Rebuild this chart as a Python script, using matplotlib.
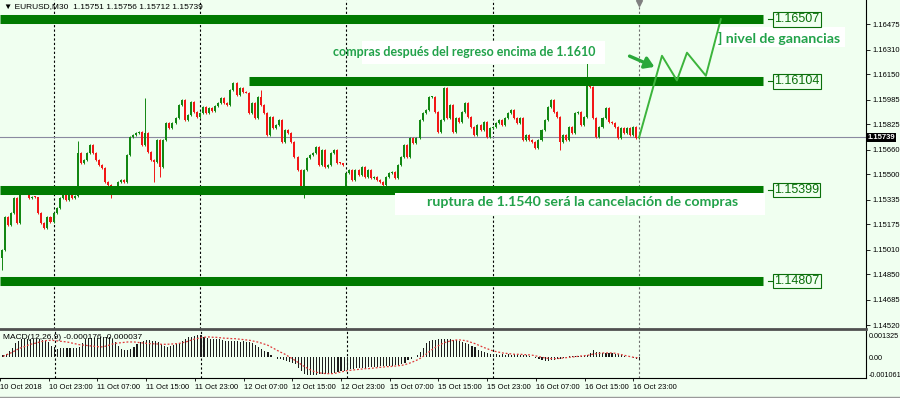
import numpy as np
import pandas as pd
import matplotlib
matplotlib.use('Agg')
import matplotlib.pyplot as plt
from matplotlib.patches import Rectangle

plt.rcParams['font.family'] = ['Liberation Sans', 'DejaVu Sans']

symbol = 'EURUSD,M30'
header_ohlc = '1.15751 1.15756 1.15712 1.15739'
last_price = 1.15739

# M30 closes, 10 Oct 15:30 .. 17 Oct 00:00 (weekend skipped)
closes = [
    1.15008, 1.15222, 1.15170, 1.15248, 1.15346, 1.15183, 1.15378, 1.15398, 1.15392, 1.15346,
    1.15352, 1.15350, 1.15248, 1.15183, 1.15150, 1.15222, 1.15190, 1.15248, 1.15281, 1.15346,
    1.15365, 1.15333, 1.15365, 1.15346, 1.15359, 1.15638, 1.15573, 1.15593, 1.15638, 1.15690,
    1.15638, 1.15593, 1.15560, 1.15541, 1.15450, 1.15430, 1.15411, 1.15405, 1.15450, 1.15463,
    1.15450, 1.15625, 1.15742, 1.15755, 1.15768, 1.15775, 1.15690, 1.15768, 1.15645, 1.15593,
    1.15580, 1.15723, 1.15547, 1.15723, 1.15833, 1.15801, 1.15833, 1.15866, 1.15950, 1.15983,
    1.15853, 1.15885, 1.15970, 1.15905, 1.15872, 1.15898, 1.15937, 1.15898, 1.15931, 1.15912,
    1.15945, 1.15963,
    1.15995, 1.15963, 1.15950, 1.16048, 1.16093, 1.16015, 1.16061, 1.16035, 1.16030, 1.15898,
    1.15963, 1.15866, 1.16002, 1.15950, 1.15898, 1.15755, 1.15872, 1.15801, 1.15820, 1.15853,
    1.15710, 1.15788, 1.15768, 1.15710, 1.15612, 1.15528, 1.15411, 1.15528, 1.15606, 1.15625,
    1.15638, 1.15677, 1.15560, 1.15658, 1.15547, 1.15560, 1.15638, 1.15658, 1.15573, 1.15570,
    1.15560,
    1.15508, 1.15528, 1.15463, 1.15528, 1.15495, 1.15547, 1.15482, 1.15528, 1.15476, 1.15482,
    1.15463, 1.15450, 1.15430, 1.15482, 1.15508, 1.15515, 1.15476, 1.15560, 1.15612, 1.15690,
    1.15612, 1.15736, 1.15703, 1.15736, 1.15853, 1.15898, 1.15918, 1.16002,
    1.16002, 1.15905, 1.15775, 1.15853, 1.16061, 1.15866, 1.15950, 1.15775, 1.15866, 1.15840,
    1.15905, 1.15963, 1.15872, 1.15807, 1.15755, 1.15820, 1.15788, 1.15840, 1.15742, 1.15801,
    1.15807, 1.15833, 1.15853, 1.15820, 1.15866, 1.15898, 1.15918, 1.15866, 1.15833, 1.15866,
    1.15723, 1.15755, 1.15723, 1.15710, 1.15671, 1.15723, 1.15788, 1.15853, 1.15937, 1.15983,
    1.15905, 1.15872, 1.15710, 1.15755, 1.15723, 1.15807, 1.15768, 1.15898, 1.15905, 1.15820,
    1.15872, 1.16080, 1.16067, 1.15866, 1.15742, 1.15807, 1.15866, 1.15931, 1.15840, 1.15833,
    1.15807, 1.15736, 1.15801, 1.15768, 1.15801, 1.15755, 1.15807, 1.15736, 1.15739,
]
first_open = 1.14955
gap_opens = {113: 1.15411}
long_highs = {25: 1.15716, 47: 1.15995, 85: 1.16048, 192: 1.16223}
long_lows = {0: 1.14878, 36: 1.15346, 50: 1.15450, 52: 1.15482, 99: 1.15346, 183: 1.15658}

# MACD(12,26,9), in units of 1e-5
macd_main = [
    12, 20, 38, 58, 84, 98, 108, 112, 112, 112,
    112, 112, 110, 106, 100, 90, 70, 62, 52, 54,
    56, 56, 56, 58, 56, 64, 84, 112, 116, 116,
    116, 116, 120, 122, 122, 122, 112, 92, 66, 52,
    46, 42, 50, 60, 78, 94, 100, 102, 102, 100,
    96, 90, 80, 66, 62, 70, 76, 80, 86, 98,
    110, 120, 122, 128, 132, 132, 122, 114, 112, 112,
    112, 110, 104, 98, 96, 96, 96, 96, 94, 96,
    94, 92, 86, 74, 60, 50, 40, 30, 12, 0,
    -8, -12, -16, -20, -26, -32, -42, -64, -82, -98,
    -106, -106, -106, -104, -102, -102, -100, -100, -98, -92,
    -88, -84, -80, -78, -70, -68, -66, -64, -64, -62,
    -60, -58, -56, -56, -54, -54, -52, -50, -50, -48,
    -48, -42, -34, -18, -8, 2, 12, 30, 56, 88,
    100, 104, 106, 110, 112, 112, 110, 108, 106, 104,
    100, 94, 86, 78, 68, 60, 46, 38, 32, 24,
    22, 20, 18, 16, 18, 16, 18, 16, 18, 14,
    16, 12, 14, 10, 2, -4, -10, -16, -20, -22,
    -18, -14, -10, -8, -6, 2, 6, 8, 10, 8,
    10, 12, 16, 24, 42, 34, 30, 26, 28, 24,
    26, 22, 18, 14, 10, 4, 0, -6, -12, -18,
]
macd_signal = [
    6, 14, 22, 30, 40, 50, 58, 64, 72, 78,
    82, 86, 92, 96, 100, 102, 102, 100, 98, 96,
    94, 92, 88, 84, 80, 76, 74, 72, 70, 68,
    66, 64, 62, 64, 68, 74, 80, 84, 86, 88,
    90, 92, 92, 92, 90, 88, 86, 84, 82, 82,
    80, 80, 78, 78, 78, 80, 80, 82, 84, 88,
    92, 98, 104, 110, 114, 118, 120, 122, 122, 120,
    120, 118, 116, 114, 114, 112, 112, 110, 108, 106,
    104, 102, 98, 94, 90, 84, 78, 72, 62, 52,
    42, 32, 24, 14, 2, -8, -20, -32, -44, -56,
    -66, -76, -84, -90, -94, -96, -98, -98, -98, -96,
    -92, -88, -84, -80, -78, -76, -74, -72, -70, -68,
    -68, -66, -64, -62, -60, -58, -56, -56, -54, -52,
    -50, -48, -44, -38, -32, -24, -16, -6, 6, 20,
    34, 48, 60, 70, 80, 88, 94, 98, 102, 104,
    104, 102, 100, 94, 88, 82, 74, 66, 58, 52,
    44, 38, 34, 30, 26, 24, 22, 20, 18, 18,
    18, 16, 16, 14, 12, 8, 4, 0, -4, -6,
    -8, -8, -8, -6, -4, -2, 0, 2, 4, 6,
    8, 10, 12, 16, 20, 22, 24, 26, 26, 26,
    26, 24, 20, 16, 12, 8, 4, 0, -2, -4,
]
macd_header = 'MACD(12,26,9) -0.000176 -0.000037'

levels = [1.16507, 1.16104, 1.15399, 1.14807]
level_start = [None, 81, None, None]   # None = zone runs from the left edge

# projected path after the last bar
proj_bar = [209, 216.5, 221.4, 224.7, 230.9, 235.8]
proj_price = [1.15739, 1.16270, 1.16110, 1.16290, 1.16140, 1.16508]

price_ticks = [1.16475, 1.16310, 1.16150, 1.15985, 1.15825, 1.15660, 1.15500,
               1.15335, 1.15175, 1.15010, 1.14850, 1.14685, 1.14520]
macd_ticks = [0.001325, 0.0, -0.001061]
macd_tick_labels = ['0.001325', '0.00', '-0.001061']

txt_buy = 'compras después del regreso encima de 1.1610'
txt_target = '] nivel de ganancias'
txt_cancel = 'ruptura de 1.1540 será la cancelación de compras'

bg = '#f0fff0'
bull = '#128712'
bear = '#f21616'
zone = '#007a00'
note_green = '#22a24a'

times = pd.date_range('2018-10-10 15:30', '2018-10-17 00:00', freq='30min')
times = times[times.dayofweek < 5]
n = len(closes)
x = np.arange(n)

opens = [first_open] + closes[:-1]
for k, v in gap_opens.items():
    opens[k] = v
o = np.array(opens)
c = np.array(closes)
hi = np.maximum(o, c) + 0.00005
lo = np.minimum(o, c) - 0.00005
for k, v in long_highs.items():
    hi[k] = v
for k, v in long_lows.items():
    lo[k] = v
cols = np.where(c >= o, bull, bear)
body = c - o
body = np.where(np.abs(body) < 0.00004, 0.00004, body)

fig = plt.figure(figsize=(9, 3.98), dpi=100, facecolor=bg)
ax = fig.add_axes([0, 69 / 398, 866 / 900, 329 / 398], facecolor=bg)
axm = fig.add_axes([0, 20 / 398, 866 / 900, 47 / 398], facecolor=bg)

xl = (-0.557, 283.4)
top = 1.166325
ax.set_xlim(*xl)
ax.set_ylim(top - 329 * 0.000065, top)

def ax_px(px, py):
    # image pixel -> main axes fraction
    return px / 866, 1 - py / 329

# candles
ax.vlines(x, lo, hi, colors=cols, lw=0.7, zorder=2)
ax.bar(x, body, bottom=o, width=0.66, color=cols, linewidth=0, zorder=3)

# day separators
seps = np.where((times.hour == 0) & (times.minute == 0))[0]
for s in seps:
    col = '#707070' if s == n - 1 else 'black'
    ax.axvline(s, color=col, lw=0.8, ls=(0, (2, 2)), zorder=1)
    axm.axvline(s, color=col, lw=0.8, ls=(0, (2, 2)), zorder=1)
ax.plot([n - 1], [top - 0.0002], marker='v', color='#808080', ms=4, zorder=6, clip_on=False)

# current price line
ax.axhline(last_price, color='#8a8aa0', lw=0.8, zorder=1)

# support / resistance zones
starts = [xl[0] if s is None else s for s in level_start]
ax.hlines(levels, starts, 249.6, colors=zone, lw=6.5, zorder=4, capstyle='butt')
for lv in levels:
    ax.plot([251.2, 253.0], [lv, lv], color='#0a6e0a', lw=0.8, zorder=4)
    ax.text(253.25, lv, f'{lv:.5f}', va='center', ha='left', fontsize=9, color='#0a6e0a',
            bbox=dict(boxstyle='square,pad=0.1', fc=bg, ec='#0a6e0a', lw=0.8), zorder=5)

# white note boxes
for (x0, y0, x1, y1) in [(395, 193, 765, 215), (716, 27, 845, 47), (362, 41, 605, 64)]:
    ax.add_patch(Rectangle(ax_px(x0, y1), (x1 - x0) / 866, (y1 - y0) / 329,
                           transform=ax.transAxes, fc='white', ec='none', zorder=4.5))

note_font = ['Lato', 'DejaVu Sans']
ax.text(*ax_px(464, 52), txt_buy, transform=ax.transAxes, ha='center', va='center',
        fontsize=9, fontweight='bold', family=note_font, color=note_green, zorder=6)
ax.text(*ax_px(582.5, 202), txt_cancel, transform=ax.transAxes, ha='center', va='center',
        fontsize=10.2, fontweight='bold', family=note_font, color=note_green, zorder=6)
ax.text(*ax_px(718, 38), txt_target, transform=ax.transAxes, ha='left', va='center',
        fontsize=10.2, fontweight='bold', family=note_font, color=note_green, zorder=6)

ax.annotate('', xy=ax_px(657, 68), xytext=ax_px(627, 55), xycoords='axes fraction',
            textcoords='axes fraction',
            arrowprops=dict(arrowstyle='-|>,head_length=0.55,head_width=0.35', lw=2.4,
                            color='#2aa83a'), zorder=6)
ax.plot(proj_bar, proj_price, color='#3cb43c', lw=1.4, zorder=6)

# right price scale
ax.yaxis.tick_right()
ax.set_yticks(price_ticks)
ax.set_yticklabels([f'{t:.5f}' for t in price_ticks])
ax.tick_params(axis='y', labelsize=5.5, length=3, width=0.6, pad=2, colors='black')
ax.set_xticks([])
for sp in ['top', 'left']:
    ax.spines[sp].set_visible(False)
ax.spines['right'].set_linewidth(0.8)
ax.spines['bottom'].set_linewidth(2.0)
ax.spines['bottom'].set_color('#505050')
ax.text(1.0015, last_price, f'{last_price:.5f}', transform=ax.get_yaxis_transform(),
        ha='left', va='center', fontsize=5.5, color='white', fontweight='bold',
        bbox=dict(boxstyle='square,pad=0.15', fc='black', ec='none'), zorder=7, clip_on=False)

fig.text(4 / 900, 1 - 7 / 398, '▼ ' + symbol + '  ' + header_ohlc, fontsize=6,
         va='center', ha='left', color='black')

# MACD window
main = np.array(macd_main) * 1e-5
signal = np.array(macd_signal) * 1e-5
axm.set_xlim(*xl)
axm.set_ylim(-0.001242, 0.001578)
axm.bar(x, main, width=0.36, color='#1c1c1c', linewidth=0, zorder=2)
axm.plot(x, signal, color='#e03a3a', lw=0.9, ls=(0, (1.5, 1.5)), zorder=3)
axm.text(3 / 866, 0.86, macd_header, transform=axm.transAxes, fontsize=6,
         va='center', ha='left', color='black', zorder=5)
axm.yaxis.tick_right()
axm.set_yticks(macd_ticks)
axm.set_yticklabels(macd_tick_labels)
axm.tick_params(axis='y', labelsize=5.2, length=0, pad=2)
for sp in ['top', 'left']:
    axm.spines[sp].set_visible(False)
axm.spines['right'].set_linewidth(0.8)
axm.spines['bottom'].set_linewidth(0.8)

# time scale
lab_idx = [-1] + list(np.where((times.minute == 0) & np.isin(times.hour, [7, 15, 23]))[0])
lab_txt = ['10 Oct 2018'] + [times[i].strftime('%d %b %H:%M') for i in lab_idx[1:]]
axm.set_xticks(lab_idx)
axm.set_xticklabels(lab_txt, ha='left')
axm.tick_params(axis='x', labelsize=5.5, length=2, width=0.6, pad=2)

fig.add_artist(plt.Line2D([0, 1], [1.5 / 398, 1.5 / 398], color='#9a9a9a', lw=1.0))

fig.savefig('out.png', dpi=100, facecolor=bg)
